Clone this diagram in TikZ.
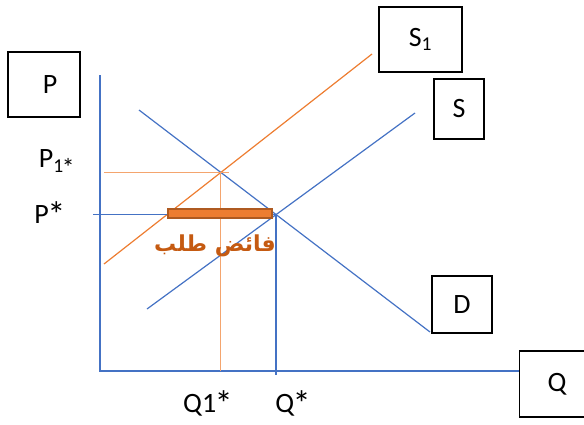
\documentclass[tikz,border=0pt]{standalone}
\usepackage{fontspec}
\setmainfont{Carlito}
\newfontfamily\arabicfont[Script=Arabic]{DejaVu Sans}
\TeXXeTstate=1
\definecolor{blu}{HTML}{4472C4}
\definecolor{ora}{HTML}{ED7D31}
\definecolor{oral}{HTML}{F4A56E}
\definecolor{brd}{HTML}{AE5A21}
\definecolor{txto}{HTML}{C55A11}
\newcommand\myast{\kern-1.5pt\raisebox{-4pt}{\scalebox{1.3}{*}}}
\begin{document}
\begin{tikzpicture}[x=1pt,y=-1pt,
  lbox/.style={draw=black,line width=1.1pt,fill=white,inner sep=0pt,font=\fontsize{28}{32}\selectfont},
  lbl/.style={inner sep=0pt,font=\fontsize{28}{32}\selectfont},
  bline/.style={draw=blu,line width=1.2pt},
  oline/.style={draw=ora,line width=1.2pt},
  olight/.style={draw=oral,line width=1.2pt}]
\useasboundingbox (0,0) rectangle (584,424);
% boxes
\node[lbox,minimum width=72pt,minimum height=65pt] (pbox) at (44,84.5) {\hspace*{12pt}P};
\node[lbox,minimum width=83pt,minimum height=65pt] (s1box) at (420.5,39.5) {S\textsubscript{1}};
\node[lbox,minimum width=50pt,minimum height=60pt] (sbox) at (459,109) {S};
\node[lbox,minimum width=60pt,minimum height=57pt] (dbox) at (462,304.5) {D};
\node[lbox,minimum width=75pt,minimum height=66pt,anchor=west] (qbox) at (519,384) {Q};
% axes
\coordinate (ytop) at (100,75);
\coordinate (orig) at (100,371);
\draw[bline] (ytop) -- (orig) -- (qbox.west |- orig);
% curves
\coordinate (d1) at (139,110); \coordinate (d2) at (430,332);
\coordinate (s1) at (147,309); \coordinate (s2) at (415,113);
\coordinate (t1) at (104,264); \coordinate (t2) at (372,54);
\draw[bline] (d1) -- (d2);
\draw[bline] (s1) -- (s2);
\draw[oline] (t1) -- (t2);
\coordinate (E) at (intersection of d1--d2 and s1--s2);
\coordinate (F) at (intersection of d1--d2 and t1--t2);
% guide lines
\coordinate (pstar) at (93,0);
\draw[bline] (pstar |- E) -- (E);
\draw[bline] (E) -- (E |- 0,375);
\draw[olight] (104,0 |- F) -- ([xshift=8pt]F);
\draw[olight] (F) -- (F |- orig);
% bar
\node[draw=brd,fill=ora,line width=2pt,minimum width=104pt,minimum height=9pt,inner sep=0pt] (bar) at (220,213.5) {};
\node[inner sep=0pt,text=txto,font=\arabicfont\bfseries\fontsize{22}{26}\selectfont] (arab) at (215,246) {\beginR فائض طلب\endR};
% labels
\node[lbl] (p1lab) at (57,163) {P\textsubscript{1\myast}};
\node[lbl] (pslab) at (50,215) {P\myast};
\node[lbl] (q1lab) at (208,404) {Q1\myast};
\node[lbl] (qslab) at (293,404) {Q\myast};
\end{tikzpicture}
\end{document}
